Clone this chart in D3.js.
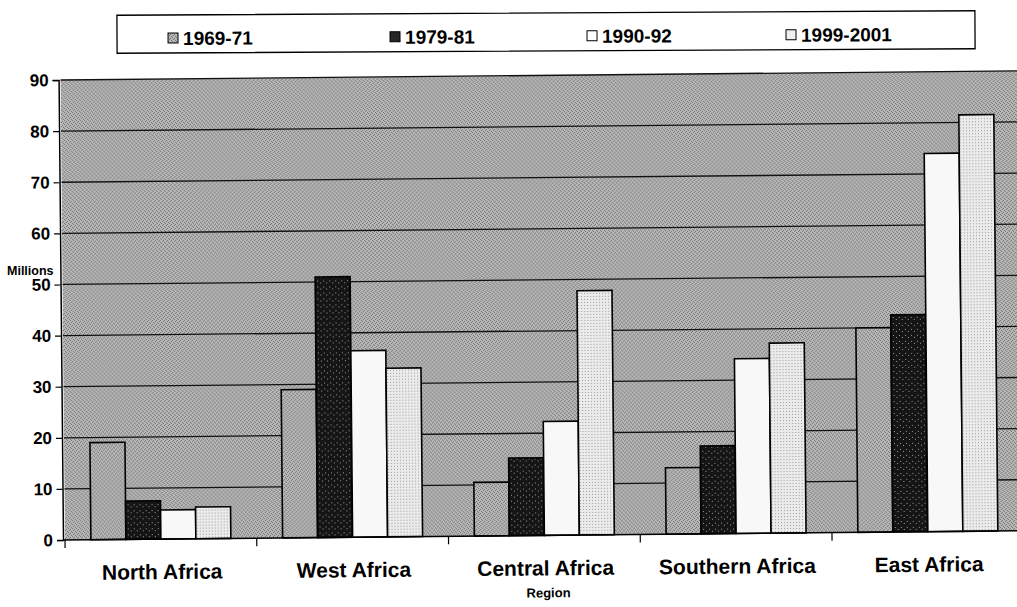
<!DOCTYPE html>
<html>
<head>
<meta charset="utf-8">
<script src="https://cdn.jsdelivr.net/npm/d3@7"></script>
<style>
  html, body { margin: 0; padding: 0; background: #ffffff; overflow: hidden; }
  svg { display: block; font-family: "Liberation Sans", Arial, sans-serif; }
</style>
</head>
<body>
<svg id="chart" width="1017" height="607"></svg>
<script>
const categories = ["North Africa", "West Africa", "Central Africa", "Southern Africa", "East Africa"];
const seriesNames = ["1969-71", "1979-81", "1990-92", "1999-2001"];
const values1969 = [19, 29, 10.5, 13, 40];
const values1979 = [7.5, 51, 15.2, 17.2, 42.5];
const values1990 = [5.7, 36.5, 22.3, 34.2, 74];
const values1999 = [6.2, 33, 47.8, 37.2, 81.5];
const yTicks = [0, 10, 20, 30, 40, 50, 60, 70, 80, 90];
const yTitle = "Millions";
const xTitle = "Region";

const seriesValues = [values1969, values1979, values1990, values1999];

const svg = d3.select("#chart");
const defs = svg.append("defs");

// textured background pattern (scan-like dithering)
const pat = defs.append("pattern").attr("id", "bgtex").attr("width", 4).attr("height", 4)
  .attr("patternUnits", "userSpaceOnUse");
pat.append("rect").attr("width", 4).attr("height", 4).attr("fill", "#b9b9b9");
[[0,0],[2,1],[1,2],[3,3]].forEach(([a,b]) =>
  pat.append("rect").attr("x", a).attr("y", b).attr("width", 1).attr("height", 1).attr("fill", "#6e6e6e"));

const pat2 = defs.append("pattern").attr("id", "blacktex").attr("width", 6).attr("height", 6)
  .attr("patternUnits", "userSpaceOnUse");
pat2.append("rect").attr("width", 6).attr("height", 6).attr("fill", "#151515");
[[1,1],[4,3]].forEach(([a,b]) =>
  pat2.append("rect").attr("x", a).attr("y", b).attr("width", 1).attr("height", 1).attr("fill", "#9a9a9a"));

const pat4 = defs.append("pattern").attr("id", "lighttex").attr("width", 3).attr("height", 3)
  .attr("patternUnits", "userSpaceOnUse");
pat4.append("rect").attr("width", 3).attr("height", 3).attr("fill", "#ebebeb");
pat4.append("rect").attr("x", 1).attr("y", 1).attr("width", 1).attr("height", 1).attr("fill", "#9c9c9c");

const barFills = ["url(#bgtex)", "url(#blacktex)", "#f8f8f8", "url(#lighttex)"];
const legendFills = ["url(#bgtex)", "#262626", "#ffffff", "#f0f0f0"];

const plotLeft = 65, plotBottom = 540, plotTop = 80, plotRight = 1045;
const x = d3.scaleBand().domain(categories).range([plotLeft, plotLeft + 191.75 * 5])
  .paddingInner(0.27).paddingOuter(0.135);
const xs = d3.scaleBand().domain(seriesNames).range([0, x.bandwidth()]).padding(0);
const y = d3.scaleLinear().domain([0, 90]).range([plotBottom, plotTop]);

// Legend
const legendOffsets = [168, 390, 587, 786];
const legend = svg.append("g").attr("transform", "rotate(-0.3, 545, 32)");
legend.append("rect").attr("x", 117).attr("y", 13).attr("width", 858).attr("height", 38)
  .attr("fill", "#fff").attr("stroke", "#000").attr("stroke-width", 1.3);
const li = legend.selectAll("g.li").data(seriesNames).join("g").attr("class", "li")
  .attr("transform", (d, i) => `translate(${legendOffsets[i]},43)`);
li.append("rect").attr("x", 0).attr("y", -12).attr("width", 10).attr("height", 10)
  .attr("fill", (d, i) => legendFills[i])
  .attr("stroke", "#000").attr("stroke-width", 1);
li.append("text").attr("x", 15).attr("y", 0).attr("font-size", 19).attr("font-weight", "bold")
  .attr("fill", "#000").text(d => d);

// Chart group, slightly rotated like the scanned original
const g = svg.append("g").attr("transform", `rotate(-0.55, ${plotLeft}, ${plotBottom})`);

g.append("rect").attr("x", plotLeft).attr("y", plotTop).attr("width", plotRight - plotLeft)
  .attr("height", plotBottom - plotTop).attr("fill", "url(#bgtex)");

// gridlines
g.append("g").selectAll("line").data(yTicks.filter(t => t > 0)).join("line")
  .attr("x1", plotLeft).attr("x2", plotRight).attr("y1", d => y(d)).attr("y2", d => y(d))
  .attr("stroke", "#111").attr("stroke-width", 1.3);

// bars
const groups = g.append("g").selectAll("g").data(categories).join("g")
  .attr("transform", d => `translate(${x(d)},0)`);
groups.selectAll("rect").data((c, ci) => seriesNames.map((s, si) => ({ s, v: seriesValues[si][ci], si })))
  .join("rect")
  .attr("x", d => xs(d.s)).attr("width", xs.bandwidth())
  .attr("y", d => y(d.v)).attr("height", d => y(0) - y(d.v))
  .attr("fill", d => barFills[d.si]).attr("stroke", "#000").attr("stroke-width", 1.6);

// y axis
const yAxis = d3.axisLeft(y).tickValues(yTicks).tickSize(6).tickPadding(4).tickFormat(d3.format("d"));
const ya = g.append("g").attr("transform", `translate(${plotLeft - 2},0)`).call(yAxis);
ya.select(".domain").attr("stroke", "#000").attr("stroke-width", 1.5);
ya.selectAll(".tick line").attr("stroke", "#000").attr("stroke-width", 1.2);
ya.selectAll(".tick text").attr("font-size", 17).attr("font-weight", "bold").attr("fill", "#000")
  .attr("font-family", "Liberation Sans, Arial, sans-serif");

// x axis baseline and boundary ticks
const boundaries = categories.map(c => x(c) - x.step() * x.paddingOuter()).concat([plotLeft + 191.75 * 5]);
g.append("line").attr("x1", plotLeft - 2).attr("x2", plotRight).attr("y1", plotBottom).attr("y2", plotBottom)
  .attr("stroke", "#000").attr("stroke-width", 1.5);
g.append("g").selectAll("line").data(boundaries).join("line")
  .attr("x1", d => d).attr("x2", d => d).attr("y1", plotBottom).attr("y2", plotBottom + 8)
  .attr("stroke", "#000").attr("stroke-width", 1.2);

// category labels
g.append("g").selectAll("text").data(categories).join("text")
  .attr("x", d => x(d) + x.bandwidth() / 2 + 1).attr("y", 580)
  .attr("text-anchor", "middle").attr("font-size", 21).attr("font-weight", "bold").attr("fill", "#000")
  .text(d => d);

// axis titles
g.append("text").attr("x", 548).attr("y", 602).attr("text-anchor", "middle")
  .attr("font-size", 13).attr("font-weight", "bold").attr("fill", "#000").text(xTitle);
svg.append("text").attr("x", 7).attr("y", 275).attr("font-size", 12.5).attr("font-weight", "bold")
  .attr("fill", "#000").text(yTitle);
</script>
</body>
</html>
